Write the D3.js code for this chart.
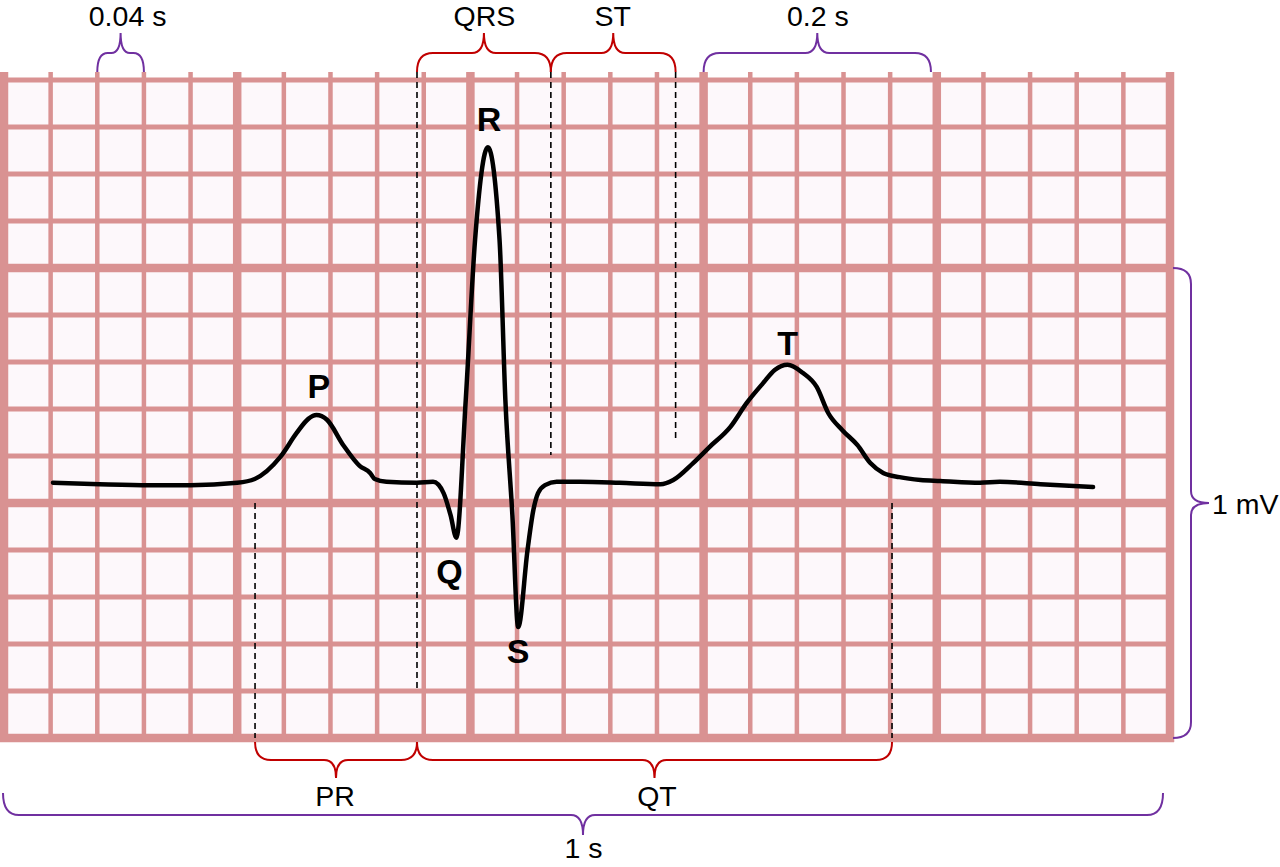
<!DOCTYPE html>
<html>
<head>
<meta charset="utf-8">
<script src="https://cdn.jsdelivr.net/npm/d3@7"></script>
<style>
  html, body { margin: 0; padding: 0; background: #ffffff; }
  svg { display: block; }
  text { font-family: "Liberation Sans", Arial, Helvetica, sans-serif; }
</style>
</head>
<body>
<svg id="chart" width="1280" height="867"></svg>
<script>
// ---- Data ----
// ECG trace: time (s) and voltage (mV)
const traceTime = [0.042, 0.082, 0.125, 0.160, 0.200, 0.215, 0.237, 0.251, 0.261, 0.268, 0.277, 0.291, 0.305, 0.314, 0.318, 0.328, 0.354, 0.368, 0.377, 0.383, 0.388, 0.396, 0.404, 0.415, 0.425, 0.430, 0.436, 0.441, 0.449, 0.454, 0.458, 0.464, 0.474, 0.494, 0.528, 0.563, 0.574, 0.591, 0.605, 0.623, 0.637, 0.651, 0.661, 0.672, 0.685, 0.697, 0.707, 0.719, 0.732, 0.743, 0.754, 0.768, 0.786, 0.803, 0.837, 0.854, 0.889, 0.934];
const traceMV   = [0.043, 0.040, 0.038, 0.038, 0.043, 0.051, 0.098, 0.149, 0.179, 0.187, 0.177, 0.123, 0.079, 0.064, 0.051, 0.045, 0.043, 0.045, 0.021, -0.026, -0.074, 0.219, 0.560, 0.757, 0.560, 0.219, -0.026, -0.264, -0.100, -0.015, 0.021, 0.038, 0.045, 0.045, 0.043, 0.040, 0.049, 0.085, 0.119, 0.162, 0.213, 0.255, 0.283, 0.294, 0.277, 0.247, 0.191, 0.155, 0.123, 0.085, 0.064, 0.055, 0.049, 0.047, 0.043, 0.045, 0.040, 0.034];

// Grid: 25 small boxes of 0.04 s, 14 small boxes of 0.1 mV
const gridTimes = d3.range(0, 26).map(i => i * 0.04);
const gridMV = d3.range(-5, 10).map(i => i / 10);

// Wave labels
const waveNames = ["P", "Q", "R", "S", "T"];
const waveTime  = [0.270, 0.382, 0.416, 0.441, 0.672];
const waveMV    = [0.224, -0.170, 0.791, -0.340, 0.315];

// Interval boundaries (s)
const dashTime  = [0.2153, 0.3542, 0.469, 0.576, 0.7616];
const dashTop   = [0.0,    0.917,  0.917, 0.917, 0.0];
const dashBot   = [-0.5,   -0.394, 0.102, 0.134, -0.5];

// Top braces
const topNames  = ["0.04 s", "QRS", "ST", "0.2 s"];
const topStart  = [0.08, 0.3542, 0.469, 0.6];
const topEnd    = [0.12, 0.469, 0.576, 0.795];
const topLabelT = [0.106, 0.412, 0.522, 0.698];
const topColor  = ["purple", "red", "red", "purple"];

// Bottom braces
const botNames  = ["PR", "QT"];
const botStart  = [0.2153, 0.3542];
const botEnd    = [0.3542, 0.7616];
const botLabelT = [0.284, 0.560];

// ---- Drawing ----
const svg = d3.select("#chart");
const x = d3.scaleLinear().domain([0, 1]).range([4, 1170]);
const y = d3.scaleLinear().domain([-0.5, 0.9]).range([738, 80]);

const gridColor = "#d99292";
const RED = "#c00000", PURPLE = "#7030a0";
const colorOf = c => c === "red" ? RED : PURPLE;

// background of paper
svg.append("rect")
  .attr("x", 0).attr("y", y(0.9)).attr("width", x(1) + 2).attr("height", y(-0.5) - y(0.9))
  .attr("fill", "#fdf8fb");

const isMajorT = (d, i) => i % 5 === 0;
const isMajorV = v => Math.round(v * 10) % 5 === 0;

// horizontal lines
svg.append("g").selectAll("line").data(gridMV).join("line")
  .attr("x1", 0).attr("x2", x(1) + 4)
  .attr("y1", d => y(d)).attr("y2", d => y(d))
  .attr("stroke", gridColor)
  .attr("stroke-width", d => isMajorV(d) ? 8.5 : 5);

// vertical lines
svg.append("g").selectAll("line").data(gridTimes).join("line")
  .attr("x1", d => x(d)).attr("x2", d => x(d))
  .attr("y1", y(0.9) - 8).attr("y2", y(-0.5) + 4)
  .attr("stroke", gridColor)
  .attr("stroke-width", (d, i) => isMajorT(d, i) ? 8.5 : 4.5);

// dashed interval lines
svg.append("g").selectAll("line").data(dashTime).join("line")
  .attr("x1", d => x(d)).attr("x2", d => x(d))
  .attr("y1", (d, i) => y(dashTop[i])).attr("y2", (d, i) => y(dashBot[i]))
  .attr("stroke", "#000").attr("stroke-width", 1.6)
  .attr("stroke-dasharray", "6,4");

// ECG trace
const pts = traceTime.map((t, i) => [t, traceMV[i]]);
svg.append("path")
  .datum(pts)
  .attr("d", d3.line().x(d => x(d[0])).y(d => y(d[1])).curve(d3.curveMonotoneX))
  .attr("fill", "none").attr("stroke", "#000").attr("stroke-width", 4.5)
  .attr("stroke-linejoin", "round").attr("stroke-linecap", "round");

// wave labels
svg.append("g").selectAll("text").data(waveNames).join("text")
  .attr("x", (d, i) => x(waveTime[i])).attr("y", (d, i) => y(waveMV[i]))
  .attr("text-anchor", "middle")
  .attr("font-size", 34).attr("font-weight", "bold").attr("fill", "#000")
  .text(d => d);

// brace path: horizontal, dir = -1 points up, +1 points down
function hBrace(x1, x2, y0, dir, h1, h2) {
  const xm = (x1 + x2) / 2;
  const half = (x2 - x1) / 2;
  const r = Math.min(16, half * 0.45);
  const r2 = Math.min(12, half * 0.4);
  const yb = y0 + dir * h1, yt = yb + dir * h2;
  return `M${x1},${y0} Q${x1},${yb} ${x1 + r},${yb} L${xm - r2},${yb} Q${xm},${yb} ${xm},${yt}` +
         ` Q${xm},${yb} ${xm + r2},${yb} L${x2 - r},${yb} Q${x2},${yb} ${x2},${y0}`;
}
function vBrace(y1, y2, x0, h1, h2) {
  const ym = (y1 + y2) / 2;
  const r = 16, r2 = 12;
  const xb = x0 + h1, xt = xb + h2;
  return `M${x0},${y1} Q${xb},${y1} ${xb},${y1 + r} L${xb},${ym - r2} Q${xb},${ym} ${xt},${ym}` +
         ` Q${xb},${ym} ${xb},${ym + r2} L${xb},${y2 - r} Q${xb},${y2} ${x0},${y2}`;
}

const braceTop = y(0.9) - 8;
// top braces
topNames.forEach((name, i) => {
  svg.append("path")
    .attr("d", hBrace(x(topStart[i]), x(topEnd[i]), braceTop, -1, 19, 20))
    .attr("fill", "none").attr("stroke", colorOf(topColor[i])).attr("stroke-width", 2);
  svg.append("text")
    .attr("x", x(topLabelT[i])).attr("y", 26)
    .attr("text-anchor", "middle").attr("font-size", 28.5).attr("fill", "#000")
    .text(name);
});

// bottom braces
const braceBot = y(-0.5) + 4;
botNames.forEach((name, i) => {
  svg.append("path")
    .attr("d", hBrace(x(botStart[i]), x(botEnd[i]), braceBot, 1, 18, 18))
    .attr("fill", "none").attr("stroke", RED).attr("stroke-width", 2);
  svg.append("text")
    .attr("x", x(botLabelT[i])).attr("y", 806)
    .attr("text-anchor", "middle").attr("font-size", 28.5).attr("fill", "#000")
    .text(name);
});

// 1 s brace
svg.append("path")
  .attr("d", hBrace(x(0) - 1, x(0.994), 793, 1, 22, 20))
  .attr("fill", "none").attr("stroke", PURPLE).attr("stroke-width", 2);
svg.append("text")
  .attr("x", x(0.497)).attr("y", 858)
  .attr("text-anchor", "middle").attr("font-size", 28.5).attr("fill", "#000")
  .text("1 s");

// 1 mV brace
svg.append("path")
  .attr("d", vBrace(y(0.5), y(-0.5), x(1) + 3, 18, 18))
  .attr("fill", "none").attr("stroke", PURPLE).attr("stroke-width", 2);
svg.append("text")
  .attr("x", 1212).attr("y", 514)
  .attr("text-anchor", "start").attr("font-size", 28.5).attr("fill", "#000")
  .text("1 mV");
</script>
</body>
</html>
